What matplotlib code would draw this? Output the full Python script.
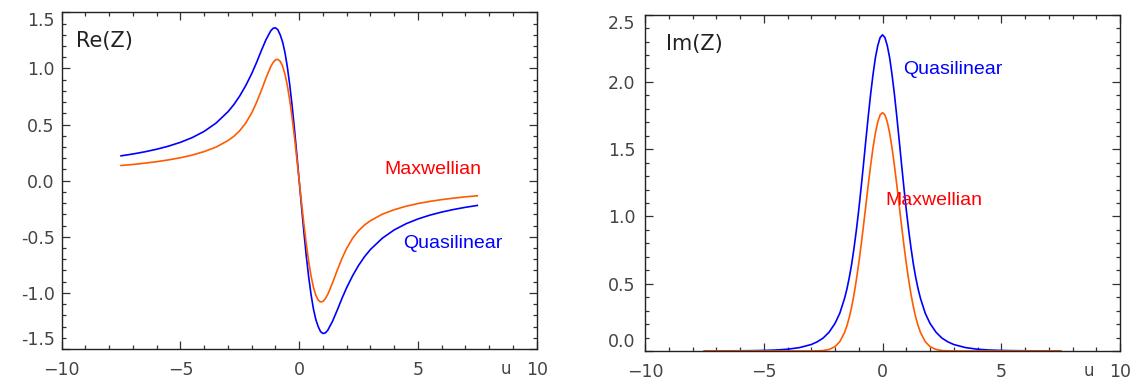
import matplotlib
matplotlib.use('Agg')
import matplotlib.pyplot as plt
import matplotlib.ticker as ticker

# sample points along u
u_left = [-7.5, -7.0, -6.5, -6.0, -5.5, -5.0, -4.5, -4.0, -3.5, -3.0, -2.75, -2.5, -2.25,
          -2.0, -1.8, -1.6, -1.4, -1.2, -1.1, -1.0, -0.9, -0.8, -0.7, -0.6, -0.5, -0.4,
          -0.3, -0.2, -0.1, 0.0, 0.1, 0.2, 0.3, 0.4, 0.5, 0.6, 0.7, 0.8, 0.9, 1.0, 1.1,
          1.2, 1.4, 1.6, 1.8, 2.0, 2.25, 2.5, 2.75, 3.0, 3.5, 4.0, 4.5, 5.0, 5.5, 6.0,
          6.5, 7.0, 7.5]

re_maxwellian = [0.135, 0.144, 0.156, 0.169, 0.185, 0.204, 0.228, 0.259, 0.299, 0.357,
                 0.395, 0.446, 0.513, 0.603, 0.694, 0.800, 0.913, 1.015, 1.052, 1.076,
                 1.081, 1.064, 1.021, 0.950, 0.849, 0.720, 0.565, 0.390, 0.199, 0.0,
                 -0.199, -0.390, -0.565, -0.720, -0.849, -0.950, -1.021, -1.064, -1.081,
                 -1.076, -1.052, -1.015, -0.913, -0.800, -0.694, -0.603, -0.513, -0.446,
                 -0.395, -0.357, -0.299, -0.259, -0.228, -0.204, -0.185, -0.169, -0.156,
                 -0.144, -0.135]

re_quasilinear = [0.221, 0.2375, 0.257, 0.280, 0.3075, 0.3415, 0.384, 0.439, 0.513, 0.6135,
                  0.678, 0.7555, 0.847, 0.953, 1.05, 1.155, 1.255, 1.334, 1.357, 1.362,
                  1.345, 1.30, 1.237, 1.143, 1.015, 0.858, 0.672, 0.462, 0.235, 0.0,
                  -0.235, -0.462, -0.672, -0.858, -1.015, -1.143, -1.237, -1.30, -1.345,
                  -1.362, -1.357, -1.334, -1.255, -1.155, -1.05, -0.953, -0.847, -0.7555,
                  -0.678, -0.6135, -0.513, -0.439, -0.384, -0.3415, -0.3075, -0.280,
                  -0.257, -0.2375, -0.221]

u_right = [-7.5, -7.0, -6.5, -6.0, -5.5, -5.0, -4.5, -4.0, -3.5, -3.0, -2.75, -2.5, -2.25,
           -2.0, -1.8, -1.6, -1.5, -1.4, -1.3, -1.2, -1.1, -1.0, -0.9, -0.8, -0.7, -0.6,
           -0.5, -0.4, -0.3, -0.2, -0.1, 0.0, 0.1, 0.2, 0.3, 0.4, 0.5, 0.6, 0.7, 0.8, 0.9,
           1.0, 1.1, 1.2, 1.3, 1.4, 1.5, 1.6, 1.8, 2.0, 2.25, 2.5, 2.75, 3.0, 3.5, 4.0,
           4.5, 5.0, 5.5, 6.0, 6.5, 7.0, 7.5]

im_maxwellian = [0.0, 0.0, 0.0, 0.0, 0.0, 0.0, 0.0, 0.0, 0.0, 0.0002, 0.001, 0.0034,
                 0.0112, 0.0325, 0.069, 0.137, 0.187, 0.250, 0.327, 0.420, 0.530, 0.652,
                 0.788, 0.933, 1.085, 1.237, 1.380, 1.511, 1.620, 1.703, 1.755, 1.772,
                 1.755, 1.703, 1.620, 1.511, 1.380, 1.237, 1.085, 0.933, 0.788, 0.652,
                 0.530, 0.420, 0.327, 0.250, 0.187, 0.137, 0.069, 0.0325, 0.0112, 0.0034,
                 0.001, 0.0002, 0.0, 0.0, 0.0, 0.0, 0.0, 0.0, 0.0, 0.0, 0.0]

im_quasilinear = [0.0004, 0.0006, 0.001, 0.0015, 0.0024, 0.004, 0.007, 0.013, 0.025, 0.048,
                  0.068, 0.096, 0.14, 0.205, 0.28, 0.39, 0.46, 0.545, 0.645, 0.765, 0.90,
                  1.05, 1.215, 1.39, 1.57, 1.745, 1.91, 2.055, 2.18, 2.27, 2.33, 2.35,
                  2.33, 2.27, 2.18, 2.055, 1.91, 1.745, 1.57, 1.39, 1.215, 1.05, 0.90,
                  0.765, 0.645, 0.545, 0.46, 0.39, 0.28, 0.205, 0.14, 0.096, 0.068, 0.048,
                  0.025, 0.013, 0.007, 0.004, 0.0024, 0.0015, 0.001, 0.0006, 0.0004]

re_ticks = [-1.5, -1.0, -0.5, 0.0, 0.5, 1.0, 1.5]
im_ticks = [0.0, 0.5, 1.0, 1.5, 2.0, 2.5]

BLUE = '#0000ff'
ORANGE = '#ff5a00'
RED = '#ff0000'
TICK_COLOR = '#444444'

plt.rcParams['font.family'] = ['DejaVu Sans']

fig = plt.figure(figsize=(11.38, 3.82), dpi=100)
ax_re = fig.add_axes([0.0542, 0.0864, 0.4174, 0.8814])
ax_im = fig.add_axes([0.5668, 0.0812, 0.4174, 0.8804])


def style_axis(ax, yticks, ypad):
    ax.set_xlim(-10, 10)
    ax.set_ylim(yticks[0], yticks[-1])
    ax.xaxis.set_major_locator(ticker.MultipleLocator(5))
    ax.xaxis.set_minor_locator(ticker.MultipleLocator(1))
    ax.set_yticks(yticks)
    ax.set_yticklabels(['%.1f' % t for t in yticks])
    ax.yaxis.set_minor_locator(ticker.MultipleLocator(0.1))
    ax.tick_params(which='both', direction='in', top=True, right=True,
                   color='#333333', width=0.9)
    ax.tick_params(which='major', length=5.5)
    ax.tick_params(which='minor', length=2.8)
    ax.tick_params(axis='x', which='major', pad=9, labelsize=12.5, labelcolor=TICK_COLOR)
    ax.tick_params(axis='y', which='major', pad=ypad, labelsize=12.5, labelcolor=TICK_COLOR)
    for side in ax.spines.values():
        side.set_linewidth(1.0)
        side.set_color('#222222')
    # edge labels are pushed inside the box like in the original
    labels = ax.get_yticklabels()
    labels[0].set_va('bottom')
    labels[-1].set_va('top')
    # x axis name sits next to the last tick label
    ax.annotate('u', xy=(8.7, 0), xycoords=('data', 'axes fraction'), xytext=(0, -14.5),
                textcoords='offset points', ha='center', va='center', fontsize=12,
                color=TICK_COLOR)


# left panel: real part
ax_re.plot(u_left, re_quasilinear, color=BLUE, lw=1.2)
ax_re.plot(u_left, re_maxwellian, color=ORANGE, lw=1.2)
style_axis(ax_re, re_ticks, 5)
ax_re.text(-9.4, 1.24, 'Re(Z)', fontsize=15, color='#222222', va='center', ha='left')
ax_re.text(3.6, 0.1, 'Maxwellian', fontsize=14, color=RED, va='center', ha='left',
           family='Liberation Sans')
ax_re.text(4.37, -0.56, 'Quasilinear', fontsize=14, color=BLUE, va='center', ha='left',
           family='Liberation Sans')

# right panel: imaginary part
ax_im.plot(u_right, im_quasilinear, color=BLUE, lw=1.2, clip_on=False)
ax_im.plot(u_right, im_maxwellian, color=ORANGE, lw=1.2, clip_on=False)
style_axis(ax_im, im_ticks, 7)
ax_im.text(-9.1, 2.28, 'Im(Z)', fontsize=15, color='#222222', va='center', ha='left')
ax_im.text(0.87, 2.09, 'Quasilinear', fontsize=14, color=BLUE, va='center', ha='left',
           family='Liberation Sans')
ax_im.text(0.11, 1.12, 'Maxwellian', fontsize=14, color=RED, va='center', ha='left',
           family='Liberation Sans')

fig.savefig('out.png', dpi=100)
